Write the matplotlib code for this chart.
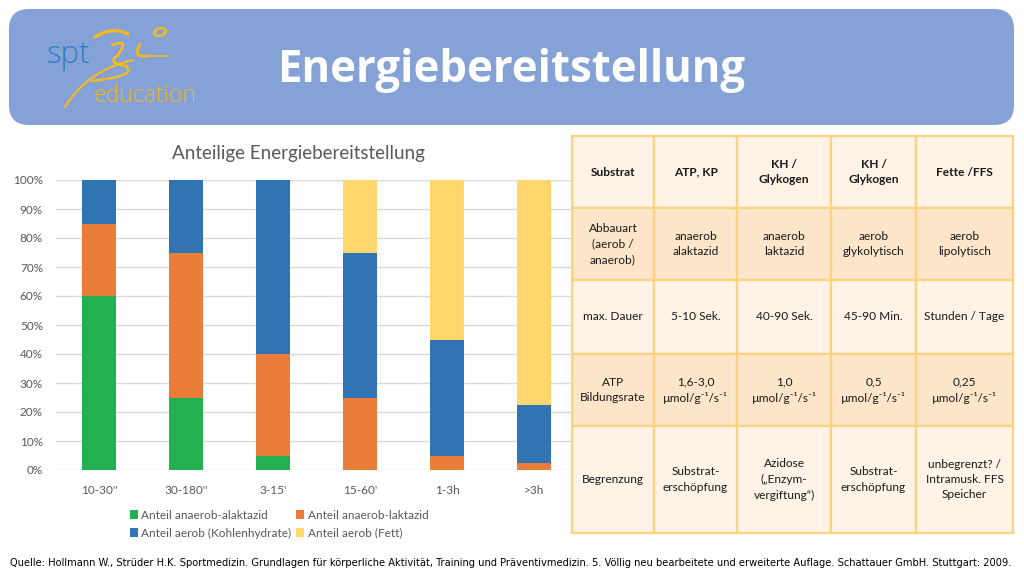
import matplotlib
matplotlib.use("Agg")
import matplotlib.pyplot as plt
from matplotlib.patches import FancyBboxPatch, Rectangle, Ellipse, PathPatch
from matplotlib.path import Path
import numpy as np

# ---------------- data ----------------
categories = ["10-30''", "30-180''", "3-15'", "15-60'", "1-3h", ">3h"]
anaerob_alaktazid = [60, 25, 5, 0, 0, 0]
anaerob_laktazid = [25, 50, 35, 25, 5, 2.5]
aerob_kh = [15, 25, 60, 50, 40, 20]
aerob_fett = [0, 0, 0, 25, 55, 77.5]
series_names = ["Anteil anaerob-alaktazid", "Anteil anaerob-laktazid",
                "Anteil aerob (Kohlenhydrate)", "Anteil aerob (Fett)"]
series_colors = ["#22B050", "#EA7D3A", "#3074B3", "#FFD76C"]
yticks = [0, 10, 20, 30, 40, 50, 60, 70, 80, 90, 100]

table_header = ["Substrat", "ATP, KP", "KH /\nGlykogen", "KH /\nGlykogen", "Fette /FFS"]
table_rows = [
    ["Abbauart\n(aerob /\nanaerob)", "anaerob\nalaktazid", "anaerob\nlaktazid", "aerob\nglykolytisch", "aerob\nlipolytisch"],
    ["max. Dauer", "5-10 Sek.", "40-90 Sek.", "45-90 Min.", "Stunden / Tage"],
    ["ATP\nBildungsrate", "1,6-3,0\nµmol/g⁻¹/s⁻¹", "1,0\nµmol/g⁻¹/s⁻¹", "0,5\nµmol/g⁻¹/s⁻¹", "0,25\nµmol/g⁻¹/s⁻¹"],
    ["Begrenzung", "Substrat-\nerschöpfung", "Azidose\n(„Enzym-\nvergiftung“)", "Substrat-\nerschöpfung", "unbegrenzt? /\nIntramusk. FFS\nSpeicher"],
]
title = "Energiebereitstellung"
chart_title = "Anteilige Energiebereitstellung"
source = ("Quelle: Hollmann W., Strüder H.K. Sportmedizin. Grundlagen für körperliche Aktivität, "
          "Training und Präventivmedizin. 5. Völlig neu bearbeitete und erweiterte Auflage. "
          "Schattauer GmbH. Stuttgart: 2009.")

W, H = 1024, 580
fig = plt.figure(figsize=(W / 100, H / 100), dpi=100)
fig.patch.set_facecolor("white")

# background axes in pixel coordinates
bg = fig.add_axes([0, 0, 1, 1])
bg.set_xlim(0, W)
bg.set_ylim(H, 0)
bg.axis("off")

# header
hdr = FancyBboxPatch((9, 9), 1005, 116, boxstyle="round,pad=0,rounding_size=20",
                     facecolor="#84A2D6", edgecolor="none", zorder=1)
bg.add_patch(hdr)
bg.text(511, 82, title, ha="center", va="baseline", color="white", fontsize=31.5,
        fontweight="bold", family=["Open Sans", "DejaVu Sans"], zorder=3)

# logo
bg.text(47, 63, "spt", ha="left", va="baseline", color="#2F7DC3", fontsize=22.5,
        family=["Open Sans", "DejaVu Sans"], fontweight="light", zorder=3)
bg.text(94, 102, "education", ha="left", va="baseline", color="#F4B820", fontsize=16.5,
        family=["Open Sans", "DejaVu Sans"], fontweight="light", zorder=3)
logo_col = "#F4B820"
def curve(pts, lw):
    codes = [Path.MOVETO] + [Path.CURVE3] * (len(pts) - 1)
    bg.add_patch(PathPatch(Path(pts, codes), facecolor="none", edgecolor=logo_col,
                           lw=lw, capstyle="round", zorder=3))
curve([(65, 107), (88, 70), (133, 60)], 1.6)          # long body sweep
curve([(95, 37), (112, 26), (128, 34)], 2.4)          # upper arm
curve([(112, 45), (130, 38), (118, 55)], 2.0)         # squiggle top
curve([(118, 55), (106, 63), (126, 66)], 2.0)         # squiggle bottom
curve([(126, 66), (138, 76), (92, 81)], 1.8)          # lower leg
curve([(140, 44), (132, 58), (147, 56)], 2.0)         # forearm
curve([(147, 56), (158, 56), (168, 56)], 1.2)         # hand line
bg.add_patch(Ellipse((160, 32), 12, 7.5, angle=-15, facecolor="none",
                     edgecolor=logo_col, lw=1.8, zorder=3))

# table
col_edges = [572, 654, 737, 831, 916, 1013]
row_edges = [136, 208, 280, 354, 426, 533]
light = "#FEF3E6"
dark = "#FDE5C9"
border = "#FDD27E"
all_rows = [table_header] + table_rows
tfont = ["Lato", "DejaVu Sans"]
for r, row in enumerate(all_rows):
    y0, y1 = row_edges[r], row_edges[r + 1]
    fc = dark if r in (1, 3) else light
    for c, txt in enumerate(row):
        x0, x1 = col_edges[c], col_edges[c + 1]
        bg.add_patch(Rectangle((x0, y0), x1 - x0, y1 - y0, facecolor=fc,
                               edgecolor=border, lw=1.6, zorder=4))
        bg.text((x0 + x1) / 2, (y0 + y1) / 2, txt, ha="center", va="center",
                fontsize=8.6, color="#1A1A1A", family=tfont,
                fontweight="bold" if r == 0 else "normal",
                linespacing=1.5, zorder=5)

# footer (fit to the slide width)
ft = bg.text(10, 563, source, ha="left", va="center", fontsize=8, color="black",
             family=["DejaVu Sans"], fontstretch="condensed", zorder=3)
renderer = fig.canvas.get_renderer()
wpx = ft.get_window_extent(renderer).width
ft.set_fontsize(8 * 1002 / wpx)

# chart
ax_left, ax_right, ax_top, ax_bot = 55.5, 577.5, 180, 470
ax = fig.add_axes([ax_left / W, 1 - ax_bot / H, (ax_right - ax_left) / W, (ax_bot - ax_top) / H])
ax.set_facecolor("none")
ax.set_zorder(1)
bg.set_zorder(2)
bg.patch.set_visible(False)
x = np.arange(len(categories))
bottom = np.zeros(len(categories))
handles = []
for vals, name, col in zip([anaerob_alaktazid, anaerob_laktazid, aerob_kh, aerob_fett],
                           series_names, series_colors):
    b = ax.bar(x, vals, width=0.39, bottom=bottom, color=col, label=name, zorder=3)
    handles.append(b)
    bottom += np.array(vals)
ax.set_xlim(-0.5, len(categories) - 0.5)
ax.set_ylim(0, 100)
ax.set_yticks(yticks)
ax.set_yticklabels([f"{v}%" for v in yticks])
ax.set_xticks(x)
ax.set_xticklabels(categories)
ax.grid(axis="y", color="#D9D9D9", lw=1, zorder=0)
for s in ax.spines.values():
    s.set_visible(False)
ax.tick_params(length=0, labelsize=8.5, labelcolor="#595959")
ax.tick_params(axis="x", pad=11)
ax.tick_params(axis="y", pad=9)
for lab in ax.get_xticklabels() + ax.get_yticklabels():
    lab.set_family(["Lato", "DejaVu Sans"])

fig.text(298 / W, 1 - 153 / H, chart_title, ha="center", va="center", fontsize=13.5,
         color="#595959", family=["Lato", "DejaVu Sans"])

order = [0, 2, 1, 3]
leg = fig.legend([handles[i] for i in order], [series_names[i] for i in order],
                 ncol=2, loc="upper center", bbox_to_anchor=(279 / W, 1 - 499 / H),
                 frameon=False, handlelength=0.7, handleheight=0.7,
                 handletextpad=0.3, columnspacing=0.35, labelspacing=0.6,
                 prop={"family": ["Lato", "DejaVu Sans"], "size": 8.5})
for t in leg.get_texts():
    t.set_color("#595959")

fig.savefig("out.png", dpi=100, facecolor="white")
